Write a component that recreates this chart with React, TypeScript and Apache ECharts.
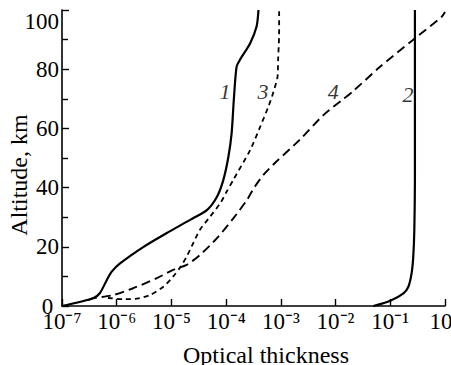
import React, { useEffect, useRef } from "react";
import * as echarts from "echarts";

const FONT = "Liberation Serif";

// Curve 1 (solid)
const curve1X = [1e-7, 3.7e-7, 4.9e-7, 6.6e-7, 8.1e-7, 1.15e-6, 3.1e-6, 8.1e-6, 2.2e-5, 4.5e-5, 6.8e-5, 8.9e-5, 1.1e-4, 1.26e-4, 1.38e-4, 1.55e-4, 1.78e-4, 2.75e-4, 3.6e-4, 3.9e-4];
const curve1Alt = [0, 2.6, 4.3, 8.8, 11.6, 14.4, 20.0, 24.6, 29.1, 32.5, 36.9, 42.6, 50.4, 58.4, 69.6, 80.8, 83.1, 88.8, 94.4, 100];

// Curve 2 (solid)
const curve2X = [0.049, 0.1, 0.174, 0.214, 0.245, 0.263, 0.275, 0.282, 0.282];
const curve2Alt = [0, 1.8, 4.3, 6.5, 11.0, 16.7, 25.7, 42.6, 100];

// Curve 3 (short dashes)
const curve3X = [6.9e-7, 1.32e-6, 2.34e-6, 4.1e-6, 7.1e-6, 1.07e-5, 1.45e-5, 1.9e-5, 2.5e-5, 3.3e-5, 5.1e-5, 7.8e-5, 1.02e-4, 1.35e-4, 2.75e-4, 4.2e-4, 5.9e-4, 7.2e-4, 8.7e-4, 8.9e-4, 9.3e-4, 9.3e-4];
const curve3Alt = [2.7, 2.3, 2.5, 3.7, 6.5, 9.9, 13.1, 16.7, 21.2, 25.7, 30.2, 34.7, 38.6, 42.6, 52.7, 60.6, 67.3, 71.9, 77.5, 83.1, 92.1, 100];

// Curve 4 (long dashes)
const curve4X = [3.0e-7, 3.7e-7, 8.7e-7, 2.0e-6, 5.4e-6, 1.07e-5, 1.9e-5, 3.3e-5, 6.8e-5, 1.35e-4, 2.4e-4, 3.2e-4, 4.8e-4, 8.3e-4, 2.2e-3, 6.0e-3, 1.38e-2, 2.1e-2, 6.5e-2, 0.26, 0.87, 1.0];
const curve4Alt = [2.0, 2.6, 3.7, 6.0, 9.4, 12.2, 13.9, 17.2, 22.9, 29.6, 35.8, 39.8, 44.3, 48.8, 56.1, 64.5, 69.9, 72.6, 80.8, 89.9, 97.7, 99.3];

// Curve labels
const curveLabelNames = ["1", "3", "4", "2"];
const curveLabelX = [9.5e-5, 4.7e-4, 9.1e-3, 0.21];
const curveLabelAlt = [72.4, 72.4, 72.4, 71.3];

const X_MIN = 1e-7;
const X_MAX = 1;
const Y_MIN = 0;
const Y_MAX = 100;

const SUP: Record<string, string> = {
  "-": "\u207B", "0": "\u2070", "1": "\u00B9", "2": "\u00B2", "3": "\u00B3",
  "4": "\u2074", "5": "\u2075", "6": "\u2076", "7": "\u2077", "8": "\u2078", "9": "\u2079",
};

const zip = (xs: number[], ys: number[]) => xs.map((x, i) => [x, ys[i]]);

export default function App() {
  const ref = useRef<HTMLDivElement>(null);

  useEffect(() => {
    if (!ref.current) return;
    const chart = echarts.init(ref.current, undefined, { renderer: "svg" });
    const lineBase = { type: "line", showSymbol: false, symbol: "none", smooth: 0.25, z: 3 };
    chart.setOption({
      animation: false,
      backgroundColor: "#fff",
      textStyle: { fontFamily: FONT, color: "#000" },
      grid: { left: 62, right: 6, top: 10, bottom: 59, containLabel: false, outerBoundsMode: "none" },
      xAxis: {
        type: "log",
        logBase: 10,
        min: X_MIN,
        max: X_MAX,
        splitNumber: 7,
        name: "Optical thickness",
        nameLocation: "middle",
        nameGap: 37,
        nameTextStyle: { fontFamily: FONT, fontSize: 24, color: "#000", padding: [0, 0, 0, 25] },
        axisLine: { show: true, lineStyle: { color: "#000", width: 1.6 } },
        axisTick: { show: true, inside: true, length: 7, lineStyle: { color: "#000", width: 1.4 } },
        minorTick: { show: false },
        splitLine: { show: false },
        axisLabel: {
          margin: 4,
          color: "#000",
          fontFamily: FONT,
          fontSize: 23,
          formatter: (v: number) => {
            const e = Math.round(Math.log10(v));
            const s = String(e).split("").map((c) => SUP[c] || c).join("");
            return "10" + s;
          },
        },
      },
      yAxis: {
        type: "value",
        min: Y_MIN,
        max: Y_MAX,
        interval: 20,
        name: "Altitude, km",
        nameLocation: "middle",
        nameGap: 31,
        nameMoveOverlap: false,
        nameTextStyle: { fontFamily: FONT, fontSize: 24, color: "#000", padding: [0, 34, 0, 0] },
        axisLine: { show: true, lineStyle: { color: "#000", width: 1.6 } },
        axisTick: { show: true, inside: true, length: 7, lineStyle: { color: "#000", width: 1.4 } },
        minorTick: { show: true, splitNumber: 2, length: 6, lineStyle: { color: "#000", width: 1.4 } },
        splitLine: { show: false },
        axisLabel: {
          margin: 3,
          color: "#000",
          fontFamily: FONT,
          fontSize: 23,
          formatter: (v: number) => (v === 100 ? "\n100" : v === 0 ? "0 " : String(v)),
        },
      },
      series: [
        { ...lineBase, name: "1", data: zip(curve1X, curve1Alt), lineStyle: { color: "#000", width: 2.2 } },
        { ...lineBase, name: "2", data: zip(curve2X, curve2Alt), lineStyle: { color: "#000", width: 2.2 } },
        { ...lineBase, name: "3", data: zip(curve3X, curve3Alt), lineStyle: { color: "#000", width: 1.8, type: [5, 4] } },
        { ...lineBase, name: "4", data: zip(curve4X, curve4Alt), lineStyle: { color: "#000", width: 1.9, type: [9, 5] } },
        {
          type: "scatter",
          symbolSize: 0,
          z: 4,
          itemStyle: { color: "#000" },
          data: curveLabelNames.map((n, i) => ({ name: n, value: [curveLabelX[i], curveLabelAlt[i]] })),
          label: {
            show: true,
            position: "inside",
            formatter: (p: any) => p.name,
            fontFamily: FONT,
            fontStyle: "italic",
            fontSize: 22,
            color: "#000",
            textBorderWidth: 0,
          },
        },
      ],
    });
    return () => chart.dispose();
  }, []);

  return (
    <div
      ref={ref}
      style={{ position: "fixed", left: 0, top: 0, width: 451, height: 365, background: "#fff" }}
    />
  );
}
